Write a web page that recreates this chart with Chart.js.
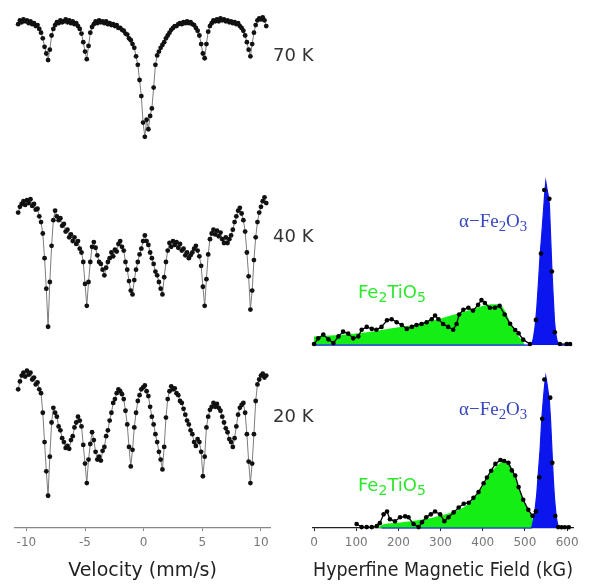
<!DOCTYPE html>
<html>
<head>
<meta charset="utf-8">
<script src="https://cdn.jsdelivr.net/npm/chart.js@4.4.1/dist/chart.umd.min.js"></script>
<style>
body { margin: 0; background: #fff; width: 589px; height: 584px; position: relative; overflow: hidden; }
canvas { position: absolute; }
.lbl { position: absolute; white-space: nowrap; line-height: 1; }
.temp { font-family: 'DejaVu Sans', sans-serif; font-size: 18px; color: #333; }
.fti { font-family: 'DejaVu Sans', sans-serif; font-size: 18px; color: #2ee82e; }
.hem { font-family: 'Liberation Serif', serif; font-size: 19px; color: #3646c0; }
.sub { font-size: 78%; position: relative; top: 0.3em; }
</style>
</head>
<body>
<canvas id="c70" width="300" height="150" style="left:0;top:5px"></canvas>
<canvas id="c40" width="300" height="165" style="left:0;top:180px"></canvas>
<canvas id="c20" width="300" height="229" style="left:0;top:355px"></canvas>
<canvas id="h40" width="289" height="180" style="left:300px;top:170px"></canvas>
<canvas id="h20" width="289" height="229" style="left:300px;top:355px"></canvas>

<div class="lbl temp" style="left:273px;top:46px">70 K</div>
<div class="lbl temp" style="left:273px;top:227px">40 K</div>
<div class="lbl temp" style="left:273px;top:407px">20 K</div>
<div class="lbl fti" style="left:358px;top:283px">Fe<span class="sub">2</span>TiO<span class="sub">5</span></div>
<div class="lbl fti" style="left:358px;top:476px">Fe<span class="sub">2</span>TiO<span class="sub">5</span></div>
<div class="lbl hem" style="left:459px;top:211px">α−Fe<span class="sub">2</span>O<span class="sub">3</span></div>
<div class="lbl hem" style="left:459px;top:399px">α−Fe<span class="sub">2</span>O<span class="sub">3</span></div>

<script>
// Mossbauer spectra, velocity channels (mm/s)
const velocity = [
  -10.70, -10.55, -10.40, -10.25, -10.10, -9.95, -9.80, -9.65, -9.50, -9.35,
  -9.20, -9.05, -8.90, -8.75, -8.60, -8.45, -8.30, -8.15, -8.00, -7.85,
  -7.70, -7.55, -7.40, -7.25, -7.10, -6.95, -6.80, -6.65, -6.50, -6.35,
  -6.20, -6.05, -5.90, -5.75, -5.60, -5.45, -5.30, -5.15, -5.00, -4.85,
  -4.70, -4.55, -4.40, -4.25, -4.10, -3.95, -3.80, -3.65, -3.50, -3.35,
  -3.20, -3.05, -2.90, -2.75, -2.60, -2.45, -2.30, -2.15, -2.00, -1.85,
  -1.70, -1.55, -1.40, -1.25, -1.10, -0.95, -0.80, -0.65, -0.50, -0.35,
  -0.20, -0.05, 0.10, 0.25, 0.40, 0.55, 0.70, 0.85, 1.00, 1.15,
  1.30, 1.45, 1.60, 1.75, 1.90, 2.05, 2.20, 2.35, 2.50, 2.65,
  2.80, 2.95, 3.10, 3.25, 3.40, 3.55, 3.70, 3.85, 4.00, 4.15,
  4.30, 4.45, 4.60, 4.75, 4.90, 5.05, 5.20, 5.35, 5.50, 5.65,
  5.80, 5.95, 6.10, 6.25, 6.40, 6.55, 6.70, 6.85, 7.00, 7.15,
  7.30, 7.45, 7.60, 7.75, 7.90, 8.05, 8.20, 8.35, 8.50, 8.65,
  8.80, 8.95, 9.10, 9.25, 9.40, 9.55, 9.70, 9.85, 10.00, 10.15,
  10.30, 10.45
];

// relative transmission (%)
const trans70 = [
  99.6, 100.0, 99.8, 100.1, 99.9, 100.0, 99.7, 99.9, 99.6, 99.7,
  99.4, 99.5, 99.1, 98.7, 98.1, 97.2, 96.5, 95.8, 96.9, 98.4,
  99.1, 99.5, 99.8, 99.7, 100.0, 99.8, 99.9, 100.1, 99.8, 100.0,
  99.7, 99.9, 99.6, 99.7, 99.4, 99.1, 98.6, 97.7, 96.7, 95.9,
  97.3, 98.7, 99.3, 99.6, 99.9, 99.7, 100.0, 99.8, 99.9, 99.7,
  99.9, 99.6, 99.7, 99.5, 99.6, 99.4, 99.5, 99.2, 99.2, 99.0,
  98.9, 98.6, 98.5, 98.1, 97.9, 97.5, 97.1, 96.2, 95.3, 93.7,
  92.0, 89.2, 87.7, 89.5, 88.5, 89.9, 90.7, 92.9, 95.3, 96.3,
  96.7, 97.1, 97.4, 97.7, 98.1, 98.4, 98.7, 99.0, 99.2, 99.4,
  99.4, 99.6, 99.7, 99.6, 99.8, 99.7, 99.9, 99.7, 99.8, 99.6,
  99.5, 99.2, 98.9, 98.4, 97.5, 96.5, 96.0, 97.5, 98.8, 99.4,
  99.7, 100.0, 99.9, 100.1, 99.9, 100.2, 100.0, 100.1, 99.9, 100.0,
  99.8, 99.9, 99.7, 99.8, 99.6, 99.7, 99.4, 99.2, 98.9, 98.4,
  97.7, 96.9, 96.2, 97.5, 98.7, 99.5, 100.0, 100.2, 100.1, 100.3,
  100.0, 99.4
];

const trans40 = [
  98.2, 98.8, 99.1, 99.4, 99.0, 99.5, 99.2, 99.6, 98.9, 99.1,
  98.5, 98.6, 97.8, 97.2, 96.0, 93.4, 90.2, 86.2, 90.9, 94.7,
  97.4, 98.4, 97.8, 97.4, 97.6, 96.8, 97.0, 96.2, 96.4, 95.6,
  95.9, 95.2, 95.6, 94.9, 95.2, 94.4, 94.0, 93.0, 90.7, 88.4,
  90.9, 93.0, 94.6, 95.1, 94.5, 93.7, 93.0, 92.8, 92.2, 91.6,
  92.4, 93.0, 93.4, 94.0, 93.6, 94.3, 94.1, 94.9, 95.2, 94.6,
  94.2, 93.0, 92.2, 91.0, 90.0, 89.6, 91.1, 92.2, 93.0, 93.8,
  94.4, 95.2, 95.8, 95.2, 94.8, 94.0, 93.4, 92.8, 92.0, 91.6,
  90.9, 90.2, 89.6, 91.4, 93.0, 94.2, 95.0, 94.6, 95.2, 94.8,
  95.1, 94.5, 94.9, 94.2, 94.4, 93.7, 94.0, 93.4, 93.7, 94.0,
  94.4, 94.7, 94.2, 93.6, 92.6, 90.4, 88.4, 91.2, 93.8, 95.4,
  96.0, 96.4, 95.9, 96.3, 95.7, 96.1, 95.4, 95.0, 95.6, 95.0,
  95.4, 95.8, 96.4, 97.2, 97.8, 98.4, 98.7, 98.1, 97.4, 96.2,
  94.0, 91.5, 88.0, 90.0, 93.2, 95.6, 97.2, 98.2, 98.8, 99.4,
  99.8, 99.2
];

const trans20 = [
  98.1, 98.9, 99.5, 99.8, 99.4, 100.0, 99.6, 99.8, 99.1, 99.3,
  98.6, 98.8, 98.1, 97.7, 95.7, 92.7, 89.7, 87.2, 91.2, 94.7,
  96.2, 95.7, 95.3, 94.3, 93.9, 93.1, 92.7, 92.1, 92.3, 92.0,
  92.9, 93.3, 94.2, 94.7, 95.3, 94.9, 94.3, 92.4, 90.5, 88.5,
  90.9, 92.5, 93.7, 92.9, 91.7, 90.9, 91.2, 90.8, 91.8, 92.2,
  93.3, 93.9, 94.9, 95.7, 96.7, 97.1, 97.7, 98.1, 97.9, 97.6,
  97.1, 95.9, 94.5, 92.2, 90.2, 91.9, 94.2, 95.7, 96.9, 97.5,
  98.1, 98.3, 98.5, 97.9, 97.4, 96.3, 95.3, 94.5, 93.5, 92.7,
  91.7, 90.9, 89.9, 92.2, 95.2, 97.1, 97.9, 98.4, 98.1, 98.2,
  97.7, 97.5, 96.9, 96.7, 96.1, 95.5, 94.9, 94.5, 93.9, 93.5,
  92.7, 92.3, 93.0, 92.7, 91.7, 89.2, 91.2, 94.2, 95.3, 96.0,
  96.3, 96.7, 96.3, 96.6, 96.2, 95.9, 95.3, 94.7, 94.1, 93.7,
  93.0, 92.7, 92.2, 93.1, 94.3, 95.5, 96.2, 96.5, 96.7, 95.7,
  93.5, 90.7, 88.5, 90.5, 93.5, 96.9, 98.6, 99.1, 99.5, 99.7,
  99.3, 99.5
];

const velocityTicks = [-10, -5, 0, 5, 10];

// hyperfine field distributions (kG vs relative probability)
const field40 = [
  0, 10, 22, 34, 46, 58, 69, 81, 93, 105,
  113, 125, 137, 148, 160, 173, 184, 196, 208, 220,
  232, 243, 255, 267, 279, 287, 295, 306, 318, 330,
  338, 344, 354, 366, 377, 389, 397, 405, 417, 429,
  440, 452, 465, 477, 485, 496, 512, 526, 538, 546,
  558, 564, 571, 583, 599, 607
];
const prob40 = [
  0.6, 4.1, 6.4, 3.5, 1.2, 5.3, 8.2, 7.0, 4.1, 5.3,
  9.4, 11.1, 9.9, 9.4, 11.1, 15.2, 15.8, 14.0, 12.3, 9.9,
  11.1, 12.3, 12.9, 14.0, 15.8, 18.1, 15.8, 12.9, 11.1, 9.4,
  12.9, 18.7, 21.6, 22.8, 21.1, 24.6, 27.5, 25.7, 22.8, 22.8,
  24.0, 18.7, 13.0, 9.2, 7.2, 3.3, 0.6, 15.4, 56, 94.9,
  89.5, 45, 7.8, 0.6, 0.6, 0.6
];
const greenField40 = [0, 50, 100, 150, 204, 250, 283, 322, 362, 406, 425, 441, 453, 465, 473, 483, 492, 500];
const green40 = [5.3, 6.0, 7.0, 8.8, 11.0, 13.0, 15.0, 18.0, 20.9, 24.4, 25.0, 24.5, 20.9, 14.0, 10.5, 6.0, 3.2, 0];
const blueField40 = [0, 512, 516, 520, 524, 528, 532, 536, 540, 544, 547, 549.5, 552, 555, 558, 561, 564, 567, 570, 573, 576, 580, 583, 612];
const blue40 = [0, 0, 0.5, 4, 11, 22, 38, 55, 68, 82, 93, 100, 96, 92, 86, 66, 46, 30, 15, 7, 3, 0.5, 0, 0];

const field20 = [
  101, 113, 125, 137, 149, 156, 165, 173, 180, 192,
  204, 216, 224, 236, 248, 256, 266, 277, 287, 299,
  309, 319, 331, 343, 355, 367, 378, 390, 402, 410,
  420, 430, 442, 451, 461, 469, 477, 485, 496, 508,
  518, 526, 534, 541, 546, 560, 565, 572, 579, 587,
  595, 604
];
const prob20 = [
  2.6, 0.6, 0.6, 0.6, 1.3, 3.2, 9.0, 10.9, 5.8, 4.5,
  7.1, 7.7, 7.1, 2.6, 0.6, 3.8, 7.1, 9.0, 10.9, 9.0,
  4.5, 7.1, 10.3, 13.5, 16.0, 16.7, 19.9, 23.7, 29.5, 33.3,
  37.8, 42.3, 44.9, 44.2, 43.0, 38.0, 34.6, 27.0, 18.6, 12.0,
  8.0, 11.0, 33.5, 72, 98, 86, 43, 7.9, 0.6, 0.5,
  0.5, 0.5
];
const greenField20 = [90, 150, 165, 200, 228, 283, 323, 363, 394, 418, 442, 454, 465, 473, 488, 504, 516, 522, 526];
const green20 = [0, 0.5, 2.5, 3.5, 4.5, 7.0, 10.0, 15.4, 25.0, 36.0, 43.0, 44.2, 41.5, 37.0, 25.0, 14.0, 7.5, 3.0, 0];
const blueField20 = [160, 516, 520, 524, 528, 531, 536, 540, 544, 547, 549.5, 552, 555, 558, 561, 564, 567, 570, 574, 577, 580];
const blue20 = [0, 0, 5, 12, 22, 33.5, 52, 72, 86, 95, 100, 96, 90, 84, 70, 52, 34, 20, 8, 3, 0];

const fieldTicks = [0, 100, 200, 300, 400, 500, 600];

const axisFont = { family: 'DejaVu Sans', size: 12 };
const titleFont = { family: 'DejaVu Sans', size: 19 };

function pairs(xs, ys) {
  return xs.map((x, i) => ({ x: x, y: ys[i] }));
}

function bottomAxis(min, max, tickValues, text, lineColor) {
  return {
    type: 'linear',
    min: min,
    max: max,
    afterBuildTicks: s => { s.ticks = tickValues.map(v => ({ value: v })); },
    afterFit: s => { s.height = 56; },
    grid: { drawOnChartArea: false, drawTicks: true, tickLength: 3, color: lineColor },
    border: { color: lineColor, width: 1.3 },
    ticks: { color: '#777', font: axisFont, padding: 5, maxRotation: 0, autoSkip: false, callback: v => v },
    title: { display: true, text: text, color: '#222', font: titleFont, padding: { top: 0, bottom: 2 } }
  };
}

function spectrum(id, values, yMin, yMax, withAxis) {
  let xScale = withAxis
    ? bottomAxis(-10.97, 10.77, velocityTicks, 'Velocity (mm/s)', '#888')
    : { type: 'linear', display: false, min: -10.97, max: 10.77 };
  new Chart(document.getElementById(id), {
    type: 'scatter',
    data: {
      datasets: [{
        data: pairs(velocity, values),
        showLine: true,
        borderColor: '#7c7c7c',
        borderWidth: 1,
        pointRadius: 2.4,
        pointBackgroundColor: '#111',
        pointBorderWidth: 0,
        clip: false
      }]
    },
    options: {
      responsive: false,
      animation: false,
      layout: { padding: { left: 15, right: 30, top: 0, bottom: 0 } },
      plugins: { legend: { display: false }, tooltip: { enabled: false } },
      scales: {
        x: xScale,
        y: { display: false, min: yMin, max: yMax }
      }
    }
  });
}

function distribution(id, dots, greenPts, bluePts, yMin, yMax, withAxis, gapFrom, gapTo) {
  let xScale = withAxis
    ? bottomAxis(-2.4, 614, fieldTicks, 'Hyperfine Magnetic Field (kG)', '#222')
    : { type: 'linear', display: false, min: -2.4, max: 614 };
  new Chart(document.getElementById(id), {
    type: 'scatter',
    data: {
      datasets: [
        {
          data: dots,
          order: 0,
          showLine: true,
          borderColor: '#000',
          borderWidth: 1.3,
          segment: {
            borderColor: ctx => (ctx.p0.parsed.x >= gapFrom && ctx.p1.parsed.x <= gapTo) ? 'rgba(0,0,0,0)' : '#000'
          },
          pointRadius: 2.3,
          pointBackgroundColor: '#000',
          pointBorderWidth: 0,
          clip: false
        },
        {
          data: bluePts,
          order: 1,
          showLine: true,
          fill: 'origin',
          backgroundColor: '#0b16ee',
          borderColor: '#0b16ee',
          borderWidth: 1.2,
          pointRadius: 0,
          tension: 0,
          clip: false
        },
        {
          data: greenPts,
          order: 2,
          showLine: true,
          fill: 'origin',
          backgroundColor: '#14ee14',
          borderColor: '#14ee14',
          borderWidth: 0,
          pointRadius: 0,
          cubicInterpolationMode: 'monotone',
          clip: false
        }
      ]
    },
    options: {
      responsive: false,
      animation: false,
      layout: { padding: { left: 13, right: 16, top: 0, bottom: 0 } },
      plugins: { legend: { display: false }, tooltip: { enabled: false } },
      scales: {
        x: xScale,
        y: { display: false, min: yMin, max: yMax }
      }
    }
  });
}

spectrum('c70', trans70, 86.2, 101.2, false);
spectrum('c40', trans40, 84.7, 101.2, false);
spectrum('c20', trans20, 83.9, 101.2, true);

distribution('h40', pairs(field40, prob40), pairs(greenField40, green40), pairs(blueField40, blue40), -0.58, 104.7, false, 512, 583);
distribution('h20', pairs(field20, prob20), pairs(greenField20, green20), pairs(blueField20, blue20), 0, 111.5, true, 526, 579);
</script>
</body>
</html>
